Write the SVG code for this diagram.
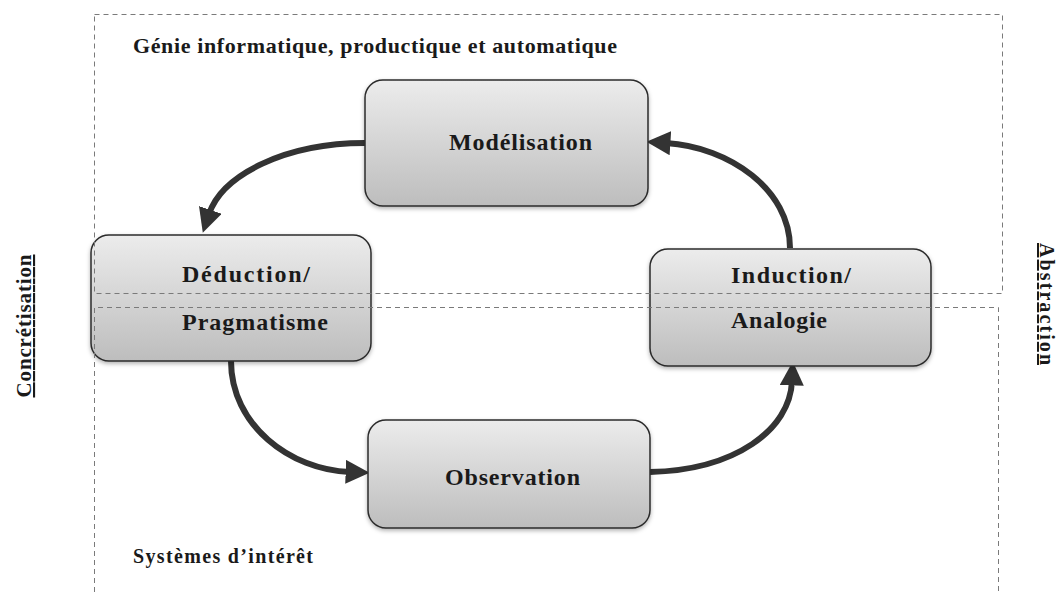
<svg xmlns="http://www.w3.org/2000/svg" width="1059" height="592" viewBox="0 0 1059 592">
<style>
.zone{fill:none;stroke:#7a7a7a;stroke-width:1;stroke-dasharray:5 4}
.box{fill:url(#g);stroke:#2b2b2b;stroke-width:1.5;filter:url(#sh)}
.t{font-family:"Liberation Serif","DejaVu Serif",serif;font-weight:bold;fill:#1a1a1a}
.lbl{font-size:24px}
.conn{fill:none;stroke:#333;stroke-width:6;marker-end:url(#ah)}
</style>
<defs>
<linearGradient id="g" x1="0" y1="0" x2="0" y2="1">
<stop offset="0" stop-color="#ececec"/>
<stop offset="1" stop-color="#bdbdbd"/>
</linearGradient>
<filter id="sh" x="-10%" y="-10%" width="120%" height="130%">
<feDropShadow dx="0" dy="2" stdDeviation="2" flood-color="#000" flood-opacity="0.3"/>
</filter>
<marker id="ah" markerUnits="userSpaceOnUse" viewBox="0 0 22 22" refX="4" refY="11" markerWidth="24" markerHeight="24" orient="auto">
<path d="M0,0 L22,11 L0,22 Z" fill="#333"/>
</marker>
</defs>
<g id="zone-labels">
<text class="t" x="133" y="53" font-size="22" textLength="484">Génie informatique, productique et automatique</text>
<text class="t" x="133" y="563" font-size="20" textLength="180">Systèmes d’intérêt</text>
<text class="t" font-size="21" text-decoration="underline" transform="translate(31,326) rotate(-90)" text-anchor="middle" textLength="143">Concrétisation</text>
<text class="t" font-size="20" text-decoration="underline" transform="translate(1040,304) rotate(90)" text-anchor="middle" textLength="122">Abstraction</text>
</g>
<g id="connectors">
<path class="conn" d="M365,143 C285,143 222,175 209,214"/>
<path class="conn" d="M231,361 C231,425 290,470 350,472"/>
<path class="conn" d="M650,472 C735,470 790,430 792,381"/>
<path class="conn" d="M790,248 C790,190 730,147 666,143"/>
</g>
<g id="n-modelisation">
<rect class="box" x="365" y="80" width="283" height="126" rx="18"/>
<text class="t lbl" x="449" y="150" textLength="143">Modélisation</text>
</g>
<g id="n-deduction">
<rect class="box" x="91" y="235" width="280" height="126" rx="18"/>
<text class="t lbl" x="182" y="282" textLength="128">Déduction/</text>
<text class="t lbl" x="182" y="330" textLength="146">Pragmatisme</text>
</g>
<g id="n-induction">
<rect class="box" x="650" y="249" width="281" height="117" rx="18"/>
<text class="t lbl" x="731" y="283" textLength="120">Induction/</text>
<text class="t lbl" x="731" y="328" textLength="96">Analogie</text>
</g>
<g id="n-observation">
<rect class="box" x="368" y="420" width="282" height="108" rx="18"/>
<text class="t lbl" x="445" y="485" textLength="135">Observation</text>
</g>
<g id="zones">
<rect class="zone" x="94.5" y="14.5" width="908" height="279"/>
<path class="zone" d="M94.5,592 V307.5 H998.5 V592"/>
</g>
</svg>
